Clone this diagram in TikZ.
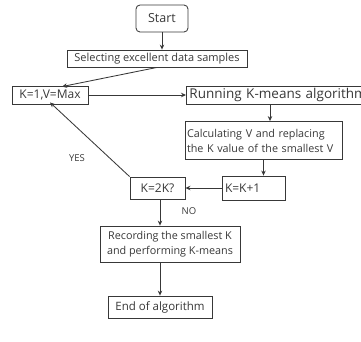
\documentclass[tikz,border=0pt]{standalone}
\usepackage{fontspec}
\setmainfont{Open Sans}
\usetikzlibrary{arrows.meta}
\definecolor{ink}{HTML}{383838}
\begin{document}
\begin{tikzpicture}[x=1pt,y=-1pt,
  box/.style={draw=ink, line width=0.85pt, text=ink, font=\fontsize{11}{13}\selectfont, inner sep=2pt},
  arr/.style={draw=ink, line width=0.85pt, -{Stealth[length=5pt,width=4.5pt]}},
  lbl/.style={text=ink, font=\fontsize{9.5}{11}\selectfont}]
\useasboundingbox (0,0) rectangle (361,341);
\node[box, rounded corners=4pt, minimum width=52pt, minimum height=27pt, font=\fontsize{12.5}{14}\selectfont] (start) at (162,18.5) {Start};
\node[box, minimum width=180pt, minimum height=17pt] (sel) at (157,58.5) {Selecting excellent data samples};
\node[box, minimum width=76pt, minimum height=18pt, font=\fontsize{12}{14}\selectfont] (k1) at (50,95) {K=1,V=Max};
\node[box, anchor=west, minimum height=18pt, text width=196pt, align=left, inner xsep=3pt, font=\fontsize{13.5}{15}\selectfont] (run) at (186,95) {Running K-means algorithm};
\node[box, minimum width=157pt, minimum height=38pt, text width=153pt, align=left, font=\fontsize{10.8}{15}\selectfont] (calc) at (263.5,140.5) {Calculating V and replacing\\the K value of the smallest V};
\node[box, minimum width=63pt, minimum height=24pt, text width=57pt, align=left, font=\fontsize{12}{14}\selectfont] (kk1) at (253.5,188) {K=K+1};
\node[box, minimum width=55pt, minimum height=22pt, font=\fontsize{12}{14}\selectfont] (k2k) at (157.5,188) {K=2K?};
\node[box, minimum width=140pt, minimum height=36pt, align=center, font=\fontsize{10.8}{15}\selectfont] (rec) at (170,244) {Recording the smallest K\\and performing K-means};
\node[box, minimum width=104pt, minimum height=22pt, font=\fontsize{11.5}{13}\selectfont] (end) at (160,307) {End of algorithm};
\node[lbl] (yes) at (77,158) {YES};
\node[lbl] (no) at (189,211) {NO};
\draw[arr] (start.south) -- (start.south |- sel.north);
\draw[arr] ([xshift=0pt]sel.south) -- ([xshift=12pt,yshift=-1pt]k1.north);
\draw[arr] (k1.east) -- (k1.east -| run.west);
\draw[arr] ([xshift=6.5pt]calc.north |- run.south) -- ([xshift=6.5pt]calc.north);
\draw[arr] (calc.south) -- (calc.south |- kk1.north);
\draw[arr] (kk1.west) -- (k2k.east);
\draw[arr] (k2k.north west) -- ([xshift=0pt,yshift=2pt]k1.south);
\draw[arr] ([xshift=2.5pt]k2k.south) -- ([xshift=2.5pt]k2k.south |- rec.north);
\draw[arr] (end.north |- rec.south) -- (end.north);
\end{tikzpicture}
\end{document}
